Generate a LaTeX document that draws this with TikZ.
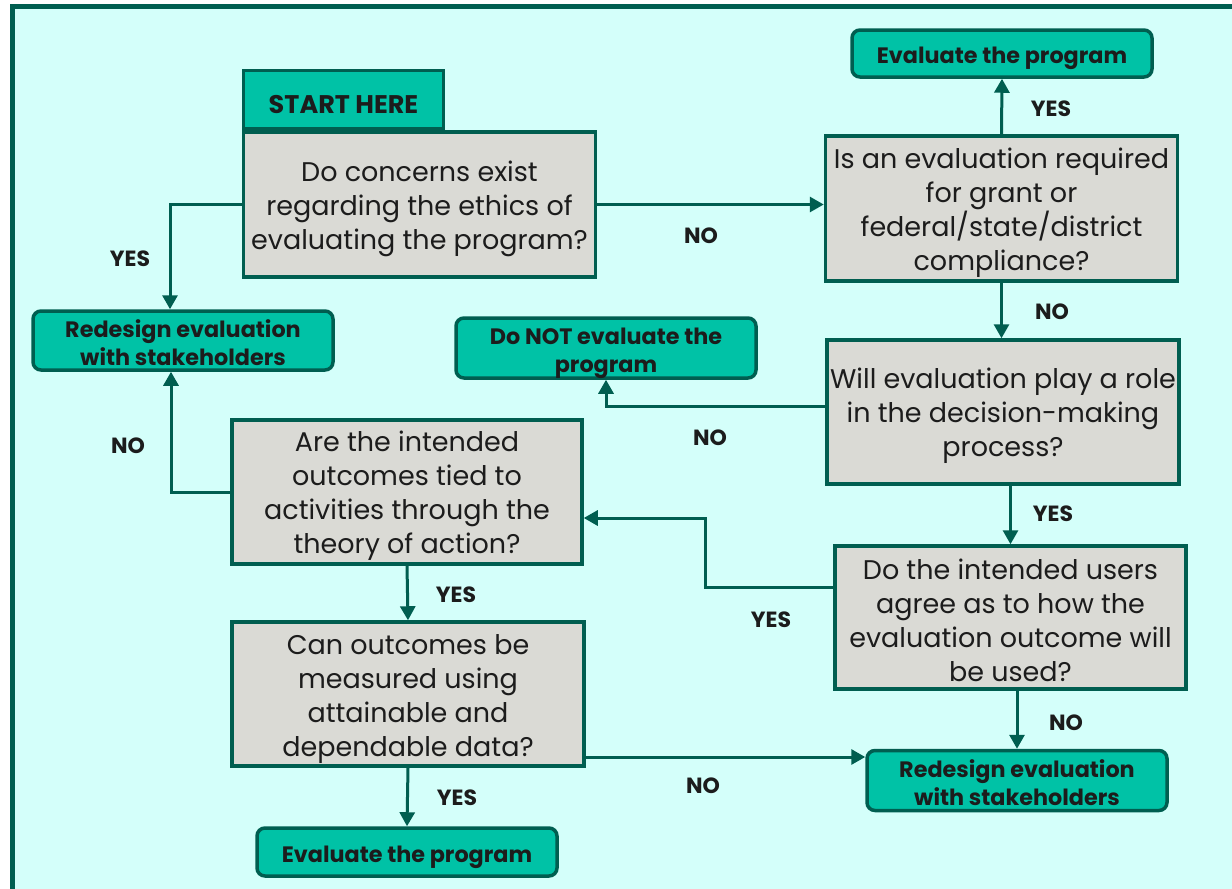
\documentclass[tikz,border=0pt]{standalone}
\usepackage{fontspec}
\setmainfont{Poppins}
\usetikzlibrary{arrows.meta,calc}
\definecolor{frameteal}{HTML}{005E50}
\definecolor{panelbg}{HTML}{D4FFFA}
\definecolor{leafgreen}{HTML}{00C2A6}
\definecolor{qgrey}{HTML}{DADAD5}
\definecolor{inktext}{HTML}{1C1C1C}
\tikzset{
  qbox/.style={draw=frameteal, line width=3.5pt, fill=qgrey, inner sep=0pt},
  qtext/.style={align=center, inner sep=0pt, text=inktext,
    font=\fontsize{27}{34}\selectfont},
  leaf/.style={draw=frameteal, line width=3.5pt, fill=leafgreen, rounded corners=8pt,
    inner sep=0pt},
  leaftext/.style={align=center, inner sep=0pt, text=inktext,
    font=\bfseries\fontsize{22.3}{28}\selectfont},
  starttab/.style={draw=frameteal, line width=3.5pt, fill=leafgreen, inner sep=0pt},
  starttext/.style={inner sep=0pt, text=inktext, font=\bfseries\fontsize{25.5}{28}\selectfont},
  arr/.style={draw=frameteal, line width=3pt,
    -{Triangle[length=14pt,width=15pt]}},
  lbl/.style={text=inktext, font=\bfseries\fontsize{22}{24}\selectfont, inner sep=0pt},
}
\begin{document}
\begin{tikzpicture}[x=1pt,y=-1pt]
\useasboundingbox (0,0) rectangle (1232,889);
\fill[white] (0,0) rectangle (1232,889);
% panel with its frame
\filldraw[draw=frameteal, fill=panelbg, line width=5pt] (12.5,6.5) rectangle (1245,905);

% question boxes
\node[qbox, minimum width=352pt, minimum height=145pt] (q1) at (419.5,204.5) {};
\node[starttab, minimum width=200pt, minimum height=58pt, anchor=south west] (start)
  at (q1.north west) {};
\node[qbox, minimum width=352pt, minimum height=145pt] (q2) at (1001.5,208.5) {};
\node[qbox, minimum width=352pt, minimum height=144pt] (q3) at (1003,412) {};
\node[qbox, minimum width=351pt, minimum height=143pt] (q4) at (1010.5,617.5) {};
\node[qbox, minimum width=350pt, minimum height=144pt] (q5) at (407,492) {};
\node[qbox, minimum width=352pt, minimum height=144pt] (q6) at (408,694) {};

% outcome boxes
\node[leaf, minimum width=300pt, minimum height=47pt] (ev1) at (1002,53.5) {};
\node[leaf, minimum width=300pt, minimum height=60pt] (dn) at (606,348) {};
\node[leaf, minimum width=300pt, minimum height=59pt] (rL) at (183,340.5) {};
\node[leaf, minimum width=300pt, minimum height=60pt] (rR) at (1017,780.5) {};
\node[leaf, minimum width=300pt, minimum height=48pt] (ev2) at (407,852) {};

% box texts
\node[starttext] (startt) at ([yshift=-5pt]start.center) {START HERE};
\node[qtext] (q1t) at ([yshift=-4pt]q1.center)
  {Do concerns exist\\regarding the ethics of\\evaluating the program?};
\node[qtext] (q2t) at ([yshift=-4pt]q2.center)
  {Is an evaluation required\\for grant or\\federal/state/district\\compliance?};
\node[qtext] (q3t) at ([yshift=-4pt]q3.center)
  {Will evaluation play a role\\in the decision-making\\process?};
\node[qtext] (q4t) at ([yshift=-3pt]q4.center)
  {Do the intended users\\agree as to how the\\evaluation outcome will\\be used?};
\node[qtext] (q5t) at ([yshift=-4pt]q5.center)
  {Are the intended\\outcomes tied to\\activities through the\\theory of action?};
\node[qtext] (q6t) at ([yshift=-5pt]q6.center)
  {Can outcomes be\\measured using\\attainable and\\dependable data?};
\node[leaftext] (ev1t) at ([yshift=-5pt]ev1.center) {Evaluate the program};
\node[leaftext] (dnt) at ([yshift=-5pt]dn.center) {Do NOT evaluate the\\program};
\node[leaftext] (rLt) at ([yshift=-2pt]rL.center) {Redesign evaluation\\with stakeholders};
\node[leaftext] (rRt) at ([yshift=-2pt]rR.center) {Redesign evaluation\\with stakeholders};
\node[leaftext] (ev2t) at ([yshift=-5pt]ev2.center) {Evaluate the program};

% bend point of the q4 -> q5 connector
\coordinate (j4) at (705,550);

% connectors
\draw[arr] (q1.west) -| ([xshift=-13pt]rL.north);
\draw[arr] (q1.east) -- (q1.east -| q2.west);
\draw[arr] (q2.north) -- (ev1.south);
\draw[arr] (q2.south) -- (q2.south |- q3.north);
\draw[arr] ([yshift=6pt]q3.west) -| (dn.south);
\draw[arr] (q4.north |- q3.south) -- (q4.north);
\draw[arr] ([yshift=30pt]q4.west) -| (j4) |- ([yshift=-26pt]q5.east);
\draw[arr] (rR.north |- q4.south) -- (rR.north);
\draw[arr] (q5.west) -| ([xshift=-12pt]rL.south);
\draw[arr] (q5.south) -- (q6.north);
\draw[arr] ([yshift=-63pt]q6.east) -- ([yshift=-63pt]q6.east -| rR.west);
\draw[arr] (q6.south) -- (ev2.north);

% branch labels
\node[lbl] (l1) at (130,259) {YES};
\node[lbl] (l2) at (701,236) {NO};
\node[lbl] (l3) at (1051,109) {YES};
\node[lbl] (l4) at (1052,312) {NO};
\node[lbl] (l5) at (710,438) {NO};
\node[lbl] (l6) at (1053,514) {YES};
\node[lbl] (l7) at (128,446) {NO};
\node[lbl] (l8) at (771,620) {YES};
\node[lbl] (l9) at (456,595) {YES};
\node[lbl] (l10) at (1066,723) {NO};
\node[lbl] (l11) at (703,786) {NO};
\node[lbl] (l12) at (457,798) {YES};
\end{tikzpicture}
\end{document}
